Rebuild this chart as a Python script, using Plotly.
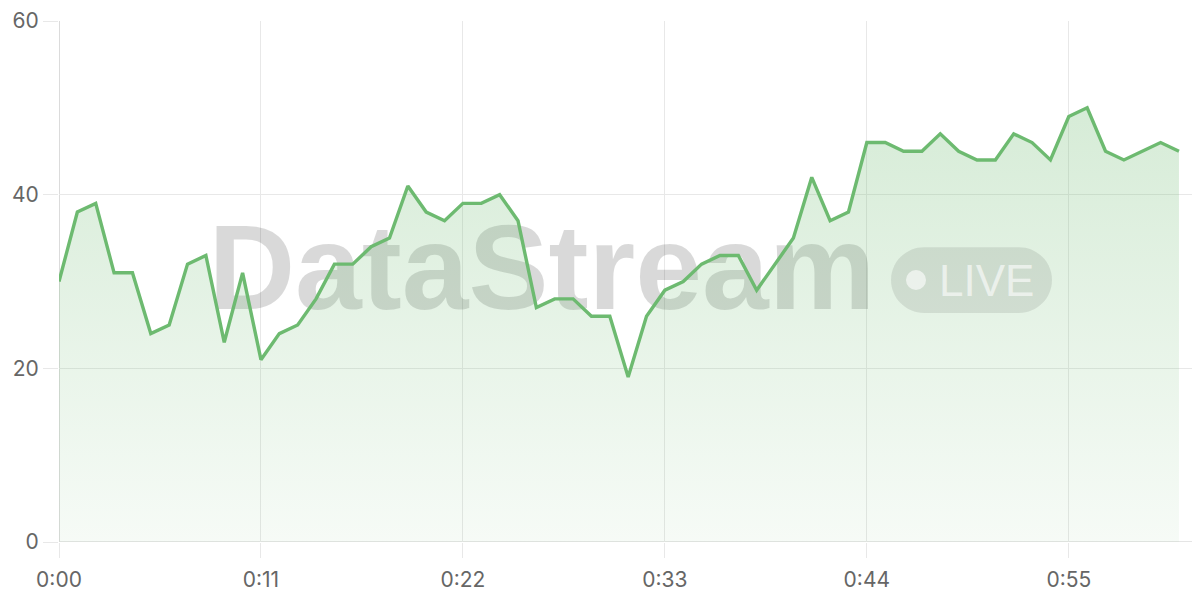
import plotly.graph_objects as go

# ---- data ----
seconds = list(range(62))
values = [30, 38, 39, 31, 31, 24, 25, 32, 33, 23,
          31, 21, 24, 25, 28, 32, 32, 34, 35, 41,
          38, 37, 39, 39, 40, 37, 27, 28, 28, 26,
          26, 19, 26, 29, 30, 32, 33, 33, 29, 32,
          35, 42, 37, 38, 46, 46, 45, 45, 47, 45,
          44, 44, 47, 46, 44, 49, 50, 45, 44, 45,
          46, 45]
x_tick_vals = [0, 11, 22, 33, 44, 55]
x_tick_text = ["0:00", "0:11", "0:22", "0:33", "0:44", "0:55"]
y_tick_vals = [0, 20, 40, 60]

# page has an 8px body margin; size the figure so it fits without scrollbars
OFF = 8
W, H = 1184, 584
ML, MR, MT, MB = 59 - OFF, 0, 20 - OFF, H - (543 - OFF)
PW, PH = W - ML - MR, H - MT - MB
PX_PER_SEC = 18.36

def px_to_paper(px, py):
    # px, py in page coordinates
    return (px - OFF - ML) / PW, (H - MB - (py - OFF)) / PH

fig = go.Figure()

# watermark text (below the line)
fig.add_trace(go.Scatter(
    x=[26.3], y=[30.3], mode="text", text=["DataStream"],
    textfont=dict(family="Liberation Sans", size=120, color="rgba(0,0,0,0.15)", weight="bold"),
    hoverinfo="skip", showlegend=False,
))

fig.add_trace(go.Scatter(
    x=seconds, y=values, mode="lines",
    line=dict(color="#6dba70", width=3.4),
    fill="tozeroy",
    fillgradient=dict(type="vertical",
                      colorscale=[[0, "rgba(109,186,112,0.06)"], [1, "rgba(109,186,112,0.28)"]]),
    hoverinfo="skip", showlegend=False,
))

# LIVE pill
x0, y0 = px_to_paper(891, 313)
x1, y1 = px_to_paper(1052, 247)
rx = 33 / PW
ry = 33 / PH
k = 0.5523
path = (f"M {x0+rx},{y0} L {x1-rx},{y0} "
        f"C {x1-rx+k*rx},{y0} {x1},{y0+ry-k*ry} {x1},{y0+ry} "
        f"C {x1},{y1-ry+k*ry} {x1-rx+k*rx},{y1} {x1-rx},{y1} "
        f"L {x0+rx},{y1} "
        f"C {x0+rx-k*rx},{y1} {x0},{y1-ry+k*ry} {x0},{y1-ry} "
        f"C {x0},{y0+ry-k*ry} {x0+rx-k*rx},{y0} {x0+rx},{y0} Z")
shapes = [dict(type="path", path=path, xref="paper", yref="paper",
               fillcolor="rgba(0,0,0,0.09)", line=dict(width=0), layer="above")]
cx, cy = px_to_paper(916, 280)
r = 10
shapes.append(dict(type="circle", xref="paper", yref="paper",
                   x0=cx - r / PW, x1=cx + r / PW, y0=cy - r / PH, y1=cy + r / PH,
                   fillcolor="rgba(255,255,255,0.6)", line=dict(width=0), layer="above"))
lx, ly = px_to_paper(986, 280)
annotations = [dict(text="LIVE", x=lx, y=ly, xref="paper", yref="paper",
                    showarrow=False, xanchor="center", yanchor="middle",
                    font=dict(family="Liberation Sans", size=44, color="rgba(255,255,255,0.6)"))]

fig.update_layout(
    width=W, height=H,
    margin=dict(l=ML, r=MR, t=MT, b=MB),
    paper_bgcolor="white", plot_bgcolor="white",
    shapes=shapes, annotations=annotations,
    font=dict(family="Inter", size=21, color="#666666"),
    xaxis=dict(range=[0, PW / PX_PER_SEC], tickvals=x_tick_vals, ticktext=x_tick_text,
               showgrid=True, gridcolor="#e8e8e8", gridwidth=1,
               ticks="outside", ticklen=15, tickcolor="#e8e8e8",
               ticklabelstandoff=4, ticklabeloverflow="allow",
               zeroline=False, showline=False, fixedrange=True),
    yaxis=dict(range=[0, 60], tickvals=y_tick_vals,
               showgrid=True, gridcolor="#e8e8e8", gridwidth=1,
               ticks="outside", ticklen=15, tickcolor="#e8e8e8",
               ticklabeloverflow="allow",
               zeroline=False, showline=False, fixedrange=True),
)
# axis lines at x=0 and y=0 (darker)
fig.add_shape(type="line", xref="x", yref="paper", x0=0, x1=0, y0=0, y1=1,
              line=dict(color="#cfcfcf", width=1.5), layer="below")
fig.add_shape(type="line", xref="paper", yref="y", x0=0, x1=1, y0=0, y1=0,
              line=dict(color="#dcdcdc", width=1.5), layer="below")

fig.write_html("out.html")
